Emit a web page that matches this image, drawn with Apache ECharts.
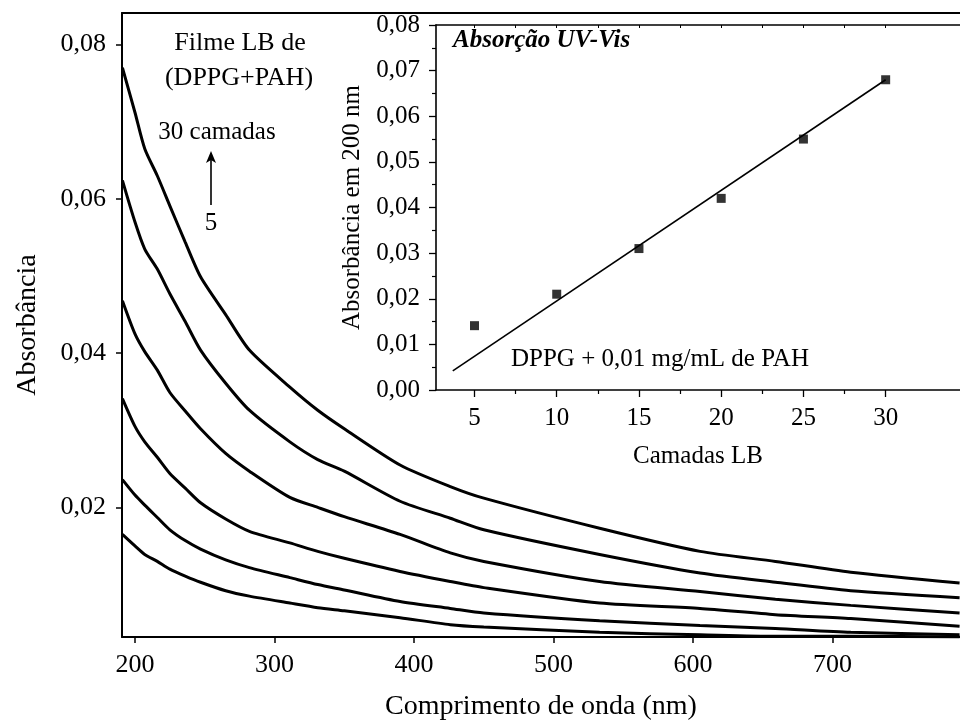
<!DOCTYPE html>
<html><head><meta charset="utf-8">
<script src="https://cdn.jsdelivr.net/npm/echarts@6/dist/echarts.min.js"></script>
<style>html,body{margin:0;padding:0;background:#fff}#c{width:960px;height:726px}</style>
</head><body><div id="c"></div>
<script>
// ---- main spectra (wavelength in nm, absorbance) ----
const wavelengths = [191, 200, 207, 216, 225, 236, 247, 265, 282, 311, 331, 350, 390, 426, 450, 533, 605, 659, 713, 791];
const abs30 = [0.0770, 0.0712, 0.0665, 0.0630, 0.0591, 0.0544, 0.0499, 0.0450, 0.0404, 0.0356, 0.0326, 0.0302, 0.0255, 0.0227, 0.0212, 0.0173, 0.0143, 0.0130, 0.0116, 0.0102];
const abs25 = [0.0624, 0.0570, 0.0535, 0.0509, 0.0477, 0.0441, 0.0404, 0.0361, 0.0326, 0.0285, 0.0262, 0.0247, 0.0208, 0.0186, 0.0171, 0.0139, 0.0115, 0.0103, 0.0092, 0.0083];
const abs20 = [0.0468, 0.0425, 0.0402, 0.0378, 0.0349, 0.0325, 0.0302, 0.0270, 0.0247, 0.0213, 0.0200, 0.0188, 0.0165, 0.0141, 0.0130, 0.0104, 0.0091, 0.0081, 0.0073, 0.0063];
const abs15 = [0.0341, 0.0305, 0.0285, 0.0265, 0.0244, 0.0225, 0.0206, 0.0185, 0.0169, 0.0154, 0.0143, 0.0134, 0.0117, 0.0104, 0.0096, 0.0076, 0.0069, 0.0061, 0.0056, 0.0046];
const abs10 = [0.0236, 0.0216, 0.0203, 0.0187, 0.0171, 0.0157, 0.0146, 0.0132, 0.0122, 0.0109, 0.0100, 0.0093, 0.0078, 0.0069, 0.0063, 0.0053, 0.0047, 0.0043, 0.0038, 0.0035];
const abs05 = [0.0165, 0.0150, 0.0139, 0.0130, 0.0120, 0.0111, 0.0103, 0.0092, 0.0085, 0.0076, 0.0070, 0.0066, 0.0057, 0.0048, 0.0045, 0.0038, 0.0035, 0.0033, 0.0033, 0.0032];
const spectra = [abs30, abs25, abs20, abs15, abs10, abs05];
const mainXTicks = [200, 300, 400, 500, 600, 700];
const mainYTicks = [0.02, 0.04, 0.06, 0.08];

// ---- inset: absorbance at 200 nm vs LB layers ----
const layers = [5, 10, 15, 20, 25, 30];
const absAt200 = [0.0141, 0.021, 0.031, 0.042, 0.055, 0.068];
const fitX = [3.68, 30];
const fitY = [0.0042, 0.0680];
const insetXTicks = [5, 10, 15, 20, 25, 30];
const insetXMinor = [7.5, 12.5, 17.5, 22.5, 27.5];

const FONT = 'Liberation Serif';
const fmt2 = v => v.toFixed(2).replace('.', ',');
const zip = (xs, ys) => xs.map((x, i) => [x, ys[i]]);

const chart = echarts.init(document.getElementById('c'), null, {renderer: 'canvas'});

const series = spectra.map((ys, i) => ({
  type: 'line', xAxisIndex: 0, yAxisIndex: 0,
  data: zip(wavelengths, ys), showSymbol: false,
  smooth: 0.25,
  lineStyle: {color: '#000', width: 3}, z: 3, silent: true
}));
series.push({
  type: 'line', xAxisIndex: 2, yAxisIndex: 1,
  data: zip(fitX, fitY), showSymbol: false,
  lineStyle: {color: '#000', width: 1.6}, z: 4, silent: true
});
series.push({
  type: 'scatter', xAxisIndex: 2, yAxisIndex: 1,
  data: zip(layers, absAt200), symbol: 'rect', symbolSize: 9,
  itemStyle: {color: '#000'}, z: 5, silent: true
});

const option = {
  animation: false,
  backgroundColor: '#fff',
  textStyle: {fontFamily: FONT, color: '#000'},
  grid: [
    {left: 122, top: 13, width: 838, height: 626.3, show: false},
    {left: 436, top: 25, width: 562, height: 365, show: false}
  ],
  xAxis: [
    { // 0 main bottom
      type: 'value', gridIndex: 0, min: 190.7, max: 791.3, position: 'bottom',
      name: 'Comprimento de onda (nm)', nameLocation: 'middle', nameGap: 56,
      nameTextStyle: {fontFamily: FONT, fontSize: 28, color: '#000'},
      axisLine: {show: true, onZero: false, lineStyle: {color: '#000', width: 2}},
      axisTick: {show: true, inside: false, length: 6, customValues: mainXTicks, lineStyle: {color: '#000', width: 1.5}},
      axisLabel: {show: true, customValues: mainXTicks, margin: 15, fontFamily: FONT, fontSize: 26, color: '#000'},
      splitLine: {show: false}
    },
    { // 1 main top border
      type: 'value', gridIndex: 0, min: 190.7, max: 791.3, position: 'top',
      axisLine: {show: true, onZero: false, lineStyle: {color: '#000', width: 2}},
      axisTick: {show: false}, axisLabel: {show: false}, splitLine: {show: false}
    },
    { // 2 inset bottom
      type: 'value', gridIndex: 1, min: 2.66, max: 34.52, position: 'bottom',
      name: 'Camadas LB', nameLocation: 'middle', nameGap: 54,
      nameTextStyle: {fontFamily: FONT, fontSize: 25, color: '#000'},
      axisLine: {show: true, onZero: false, lineStyle: {color: '#000', width: 1.6}},
      axisTick: {show: true, inside: false, length: 7, customValues: insetXTicks, lineStyle: {color: '#000', width: 1.3}},
      axisLabel: {show: true, customValues: insetXTicks, margin: 16, fontFamily: FONT, fontSize: 25, color: '#000'},
      splitLine: {show: false}
    },
    { // 3 inset bottom minor ticks
      type: 'value', gridIndex: 1, min: 2.66, max: 34.52, position: 'bottom',
      axisLine: {show: false},
      axisTick: {show: true, inside: false, length: 4, customValues: insetXMinor, lineStyle: {color: '#000', width: 1.2}},
      axisLabel: {show: false}, splitLine: {show: false}
    },
    { // 4 inset top border
      type: 'value', gridIndex: 1, min: 2.66, max: 34.52, position: 'top',
      axisLine: {show: true, onZero: false, lineStyle: {color: '#000', width: 1.6}},
      axisTick: {show: true, inside: true, length: 3, customValues: insetXTicks.concat(insetXMinor), lineStyle: {color: '#000', width: 1}},
      axisLabel: {show: false}, splitLine: {show: false}
    }
  ],
  yAxis: [
    { // 0 main left
      type: 'value', gridIndex: 0, min: 0.0032, max: 0.0841, position: 'left',
      name: 'Absorbância', nameLocation: 'middle', nameGap: 80,
      nameTextStyle: {fontFamily: FONT, fontSize: 28, color: '#000'},
      axisLine: {show: true, onZero: false, lineStyle: {color: '#000', width: 2}},
      axisTick: {show: true, inside: false, length: 6, customValues: mainYTicks, lineStyle: {color: '#000', width: 1.5}},
      axisLabel: {show: true, customValues: mainYTicks, margin: 16, fontFamily: FONT, fontSize: 26, color: '#000', formatter: v => fmt2(v)},
      splitLine: {show: false}
    },
    { // 1 inset left
      type: 'value', gridIndex: 1, min: 0, max: 0.08, interval: 0.01, position: 'left',
      name: 'Absorbância em 200 nm', nameLocation: 'middle', nameGap: 70,
      nameTextStyle: {fontFamily: FONT, fontSize: 25, color: '#000'},
      axisLine: {show: true, onZero: false, lineStyle: {color: '#000', width: 1.6}},
      axisTick: {show: true, inside: false, length: 7, lineStyle: {color: '#000', width: 1.3}},
      minorTick: {show: true, splitNumber: 2, length: 4, lineStyle: {color: '#000', width: 1.2}},
      axisLabel: {show: true, margin: 16, fontFamily: FONT, fontSize: 25, color: '#000', formatter: v => fmt2(v)},
      splitLine: {show: false}, minorSplitLine: {show: false}
    }
  ],
  series: series,
  graphic: [
    {type: 'text', x: 240, y: 43, style: {text: 'Filme LB de', font: '26px "Liberation Serif"', fill: '#000', align: 'center', verticalAlign: 'middle'}},
    {type: 'text', x: 239, y: 78, style: {text: '(DPPG+PAH)', font: '26px "Liberation Serif"', fill: '#000', align: 'center', verticalAlign: 'middle'}},
    {type: 'text', x: 217, y: 132, style: {text: '30 camadas', font: '25px "Liberation Serif"', fill: '#000', align: 'center', verticalAlign: 'middle'}},
    {type: 'line', shape: {x1: 211, y1: 205, x2: 211, y2: 158}, style: {stroke: '#000', lineWidth: 1.6}},
    {type: 'polygon', shape: {points: [[211, 151], [206, 163], [211, 160], [216, 163]]}, style: {fill: '#000'}},
    {type: 'text', x: 211, y: 223, style: {text: '5', font: '25px "Liberation Serif"', fill: '#000', align: 'center', verticalAlign: 'middle'}},
    {type: 'text', x: 453, y: 41, style: {text: 'Absorção UV-Vis', font: 'italic bold 25px "Liberation Serif"', fill: '#000', align: 'left', verticalAlign: 'middle'}},
    {type: 'text', x: 511, y: 359, style: {text: 'DPPG + 0,01 mg/mL de PAH', font: '25px "Liberation Serif"', fill: '#000', align: 'left', verticalAlign: 'middle'}}
  ]
};
chart.setOption(option);
</script>
</body></html>
